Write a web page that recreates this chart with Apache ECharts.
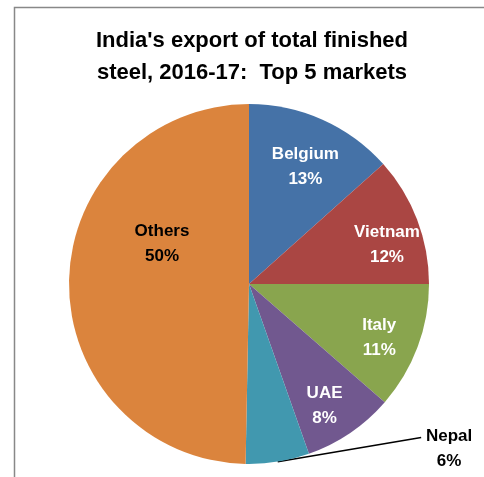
<!DOCTYPE html>
<html>
<head>
<meta charset="utf-8">
<script src="https://cdn.jsdelivr.net/npm/echarts@6/dist/echarts.min.js"></script>
<style>
    html, body { margin: 0; padding: 0; background: #fff; }
    #main { width: 484px; height: 477px; }
</style>
</head>
<body>
<div id="main"></div>
<script>
// shares of India's finished steel exports, 2016-17
var markets = ['Belgium', 'Vietnam', 'Italy', 'UAE', 'Nepal', 'Others'];
var shares = [13.4, 11.6, 11.4, 8.2, 5.7, 49.7];
var colors = ['#4572A7', '#AA4643', '#89A54E', '#71588F', '#4198AF', '#DB843D'];
var titleLines = ["India's export of total finished", 'steel, 2016-17:  Top 5 markets'];

(function() {
    var chartDom = document.getElementById('main');
    var myChart = echarts.init(chartDom, null, { renderer: 'canvas' });
    var font = 'Liberation Sans';

    // small nudges so the labels sit where Excel put them
    var ringNudge = { Belgium: [0, 9], Vietnam: [9, 10], Italy: [1, 5], UAE: [-2, 8] };

    // main pie: the slices, plus labels for Nepal (outside) and Others
    var mainData = markets.map(function(name, i) {
        var item = {
            name: name,
            value: shares[i],
            itemStyle: { color: colors[i] },
            label: { show: false },
            labelLine: { show: false }
        };
        if (name === 'Nepal') {
            item.label = { show: true, position: 'outside', color: '#000' };
            item.labelLine = { show: true, length: 8, length2: 110, lineStyle: { color: '#000', width: 1.5 } };
        }
        if (name === 'Others') {
            item.label = { show: true, position: 'inside', color: '#000' };
        }
        return item;
    });

    // transparent ring used only to place the white labels further out
    var ringData = markets.map(function(name, i) {
        return {
            name: name,
            value: shares[i],
            label: { show: name !== 'Nepal' && name !== 'Others' }
        };
    });

    var labelStyle = {
        formatter: '{b}\n{d}%',
        fontFamily: font,
        fontWeight: 'bold',
        fontSize: 17,
        lineHeight: 25,
        align: 'center'
    };

    var option = {
        animation: false,
        title: {
            text: titleLines.join('\n'),
            left: 247,
            textAlign: 'center',
            top: 20,
            textStyle: {
                fontFamily: font,
                fontWeight: 'bold',
                fontSize: 22,
                lineHeight: 32,
                color: '#000'
            }
        },
        graphic: [{
            type: 'rect',
            shape: { x: 14.5, y: 7.5, width: 520, height: 520 },
            style: { fill: 'none', stroke: '#888', lineWidth: 1.5 },
            silent: true
        }],
        series: [{
                type: 'pie',
                center: [249, 284],
                radius: 180,
                startAngle: 90,
                clockwise: true,
                percentPrecision: 0,
                avoidLabelOverlap: false,
                label: labelStyle,
                itemStyle: { borderWidth: 0 },
                emphasis: { disabled: true },
                labelLayout: function(params) {
                    var r = params.labelRect;
                    if (params.dataIndex === 5) {
                        return { dx: 6, dy: -39 };
                    }
                    if (params.dataIndex === 4) {
                        // move the Nepal label up/right and run the leader straight to it
                        var cx = r.x + r.width / 2 + 32;
                        var cy = r.y + r.height / 2 - 21;
                        var out = { x: cx, y: cy, align: 'center' };
                        var pts = params.labelLinePoints;
                        if (pts && pts.length) {
                            out.labelLinePoints = [pts[0], [cx - 28, cy - 11]];
                        }
                        return out;
                    }
                },
                data: mainData
            },
            {
                type: 'pie',
                center: [249, 284],
                radius: [90, 180],
                startAngle: 90,
                clockwise: true,
                percentPrecision: 0,
                silent: true,
                avoidLabelOverlap: false,
                label: Object.assign({ position: 'inside', color: '#fff' }, labelStyle),
                labelLine: { show: false },
                itemStyle: { color: 'rgba(0,0,0,0)', borderWidth: 0 },
                emphasis: { disabled: true },
                labelLayout: function(params) {
                    var n = ringNudge[markets[params.dataIndex]];
                    if (n) {
                        return { dx: n[0], dy: n[1] };
                    }
                },
                data: ringData
            }
        ]
    };

    myChart.setOption(option);
})();
</script>
</body>
</html>
